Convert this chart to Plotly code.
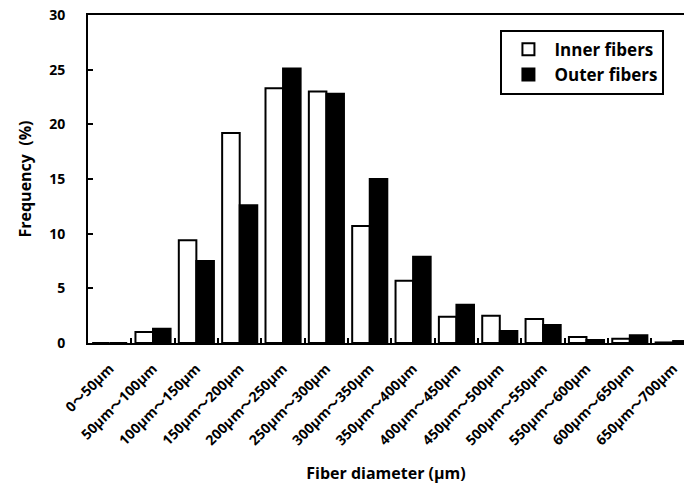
import plotly.graph_objects as go

categories = ['0〜50μm', '50μm〜100μm', '100μm〜150μm', '150μm〜200μm', '200μm〜250μm',
              '250μm〜300μm', '300μm〜350μm', '350μm〜400μm', '400μm〜450μm', '450μm〜500μm',
              '500μm〜550μm', '550μm〜600μm', '600μm〜650μm', '650μm〜700μm']
inner = [0, 1.0, 9.4, 19.2, 23.3, 23.0, 10.7, 5.7, 2.4, 2.5, 2.2, 0.55, 0.4, 0.05]
outer = [0, 1.3, 7.5, 12.6, 25.1, 22.8, 15.0, 7.9, 3.5, 1.1, 1.65, 0.27, 0.7, 0.18]

FONT = 'Open Sans, Noto Sans CJK JP'

fig = go.Figure()
fig.add_trace(go.Bar(
    x=categories, y=inner, name='Inner fibers',
    marker=dict(color='white', line=dict(color='black', width=2))
))
fig.add_trace(go.Bar(
    x=categories, y=outer, name='Outer fibers',
    marker=dict(color='black', line=dict(color='black', width=2))
))

fig.update_layout(
    width=684, height=489,
    margin=dict(l=88, r=0, t=15, b=146),
    plot_bgcolor='white', paper_bgcolor='white',
    barmode='group', bargap=0.19, bargroupgap=0,
    font=dict(family=FONT, color='black'),
    showlegend=True,
    legend=dict(
        x=0.692, y=0.955, xanchor='left', yanchor='top',
        bordercolor='black', borderwidth=2, bgcolor='white',
        font=dict(size=17, family=FONT, weight='bold'),
        tracegroupgap=0, itemwidth=42,
    ),
)

fig.update_xaxes(
    type='category', range=[-0.5, 13.25], automargin=False,
    showline=True, linecolor='black', linewidth=2, mirror=True,
    ticks='inside', tickson='boundaries', ticklen=5, tickcolor='black', tickwidth=1.5,
    tickangle=-45, tickfont=dict(size=14, family=FONT, weight='bold'),
    ticklabelstandoff=10,
    title=dict(text='Fiber diameter (µm)', font=dict(size=16, family=FONT, weight='bold'), standoff=20),
    showgrid=False,
)
fig.update_yaxes(
    range=[0, 30], dtick=5, automargin=False,
    showline=True, linecolor='black', linewidth=2,
    ticks='inside', ticklen=5, tickcolor='black', tickwidth=1.5,
    tickfont=dict(size=14, family=FONT, weight='bold'),
    ticklabelstandoff=18,
    title=dict(text='Frequency  (%)', font=dict(size=16, family=FONT, weight='bold'), standoff=14),
    showgrid=False, zeroline=False,
)

# drop the default page margin so the figure sits at the window's top-left corner
fig.write_html('out.html', config={'displayModeBar': False},
               post_script="document.body.style.margin='0';")
